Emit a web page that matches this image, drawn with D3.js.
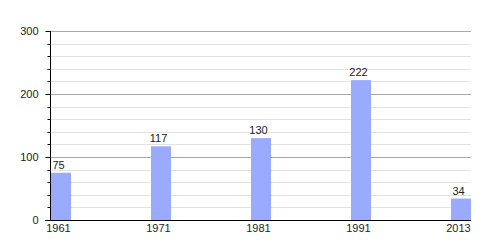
<!DOCTYPE html>
<html>
<head>
<meta charset="utf-8">
<script src="https://cdn.jsdelivr.net/npm/d3@7"></script>
<style>
	body { margin: 0; background: #fff; }
	text { font-family: 'Liberation Sans', Arial, sans-serif; font-size: 11px; fill: #222; }
</style>
</head>
<body>
<div id="chart"></div>
<script>
// Data
const years = ['1961', '1971', '1981', '1991', '2013'];
const population = [75, 117, 130, 222, 34];
const majorTicks = [0, 100, 200, 300];
const minorTicks = d3.range(0, 301, 20).filter((v) => v % 100 !== 0);

// Attribute
const width = 500;
const height = 250;
const margin = { top: 31, right: 29, bottom: 30, left: 50 };
const labelShift = -2.5;

const svg = d3.select('#chart').append('svg')
	.attr('width', width)
	.attr('height', height);

const x = d3.scaleBand()
	.domain(years)
	.range([margin.left + 1, width - margin.right])
	.paddingInner(0.8)
	.paddingOuter(0)
	.align(0);

const y = d3.scaleLinear()
	.domain([0, 300])
	.range([height - margin.bottom, margin.top]);

// grid lines
svg.append('g')
	.selectAll('line')
	.data(minorTicks)
	.join('line')
	.attr('x1', margin.left)
	.attr('x2', width - margin.right)
	.attr('y1', (d) => Math.round(y(d)) + 0.5)
	.attr('y2', (d) => Math.round(y(d)) + 0.5)
	.attr('stroke', '#e2e2e2');

svg.append('g')
	.selectAll('line')
	.data(majorTicks.filter((d) => d > 0))
	.join('line')
	.attr('x1', margin.left)
	.attr('x2', width - margin.right)
	.attr('y1', (d) => Math.round(y(d)) + 0.5)
	.attr('y2', (d) => Math.round(y(d)) + 0.5)
	.attr('stroke', '#a8a8a8');

// bars
svg.append('g')
	.attr('fill', '#99aaff')
	.selectAll('rect')
	.data(population)
	.join('rect')
	.attr('x', (d, i) => x(years[i]))
	.attr('y', (d) => y(d))
	.attr('width', x.bandwidth())
	.attr('height', (d) => y(0) - y(d));

// value labels
svg.append('g')
	.selectAll('text')
	.data(population)
	.join('text')
	.attr('x', (d, i) => x(years[i]) + x.bandwidth() / 2 + labelShift)
	.attr('y', (d) => y(d) - 4)
	.attr('text-anchor', 'middle')
	.text((d) => d);

// y axis
const yAxis = svg.append('g')
	.attr('transform', `translate(${margin.left + 0.5},0)`);
yAxis.append('line')
	.attr('y1', y(300))
	.attr('y2', y(0))
	.attr('stroke', '#000');
yAxis.selectAll('.minor')
	.data(minorTicks)
	.join('line')
	.attr('class', 'minor')
	.attr('x1', -3)
	.attr('x2', 0)
	.attr('y1', (d) => Math.round(y(d)) + 0.5)
	.attr('y2', (d) => Math.round(y(d)) + 0.5)
	.attr('stroke', '#000');
yAxis.selectAll('.major')
	.data(majorTicks)
	.join('line')
	.attr('class', 'major')
	.attr('x1', -5)
	.attr('x2', 0)
	.attr('y1', (d) => Math.round(y(d)) + 0.5)
	.attr('y2', (d) => Math.round(y(d)) + 0.5)
	.attr('stroke', '#000');
yAxis.selectAll('text')
	.data(majorTicks)
	.join('text')
	.attr('x', -12)
	.attr('y', (d) => y(d) + 4)
	.attr('text-anchor', 'end')
	.text((d) => d);

// x axis
const xAxis = svg.append('g');
xAxis.append('line')
	.attr('x1', margin.left - 5)
	.attr('x2', width - margin.right)
	.attr('y1', Math.round(y(0)) + 0.5)
	.attr('y2', Math.round(y(0)) + 0.5)
	.attr('stroke', '#000');
xAxis.selectAll('text')
	.data(years)
	.join('text')
	.attr('x', (d) => x(d) + x.bandwidth() / 2 + labelShift)
	.attr('y', y(0) + 12)
	.attr('text-anchor', 'middle')
	.text((d) => d);
</script>
</body>
</html>
